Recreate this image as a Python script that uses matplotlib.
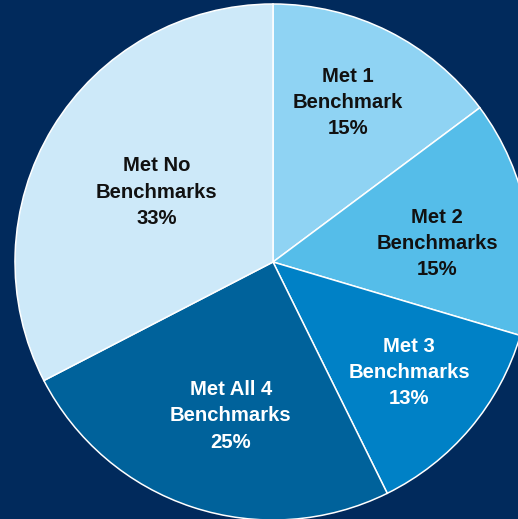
import matplotlib
matplotlib.use("Agg")
import matplotlib.pyplot as plt
import numpy as np

categories = ["Met 1\nBenchmark", "Met 2\nBenchmarks", "Met 3\nBenchmarks",
              "Met All 4\nBenchmarks", "Met No\nBenchmarks"]
values = [14.8, 14.8, 13.1, 24.7, 32.6]
pct_labels = ["15%", "15%", "13%", "25%", "33%"]
colors = ["#8fd3f3", "#55bde9", "#0081c6", "#00629b", "#cde9f9"]
text_colors = ["#111111", "#111111", "white", "white", "#111111"]
label_radius = [0.69, 0.641, 0.675, 0.611, 0.53]
label_angle = [65.0, 7.3, -38.5, -105.5, 148.2]

bg = "#012a5c"
W, H, DPI = 518, 519, 100
fig = plt.figure(figsize=(W / DPI, H / DPI), dpi=DPI, facecolor=bg)
ax = fig.add_axes([0, 0, 1, 1])
ax.set_facecolor(bg)

wedges, _ = ax.pie(values, colors=colors, startangle=90, counterclock=False,
                   radius=1.0, center=(0, 0),
                   wedgeprops=dict(edgecolor="white", linewidth=1.1))

for cat, pct, tc, r, a in zip(categories, pct_labels, text_colors, label_radius, label_angle):
    t = np.deg2rad(a)
    x, y = r * np.cos(t), r * np.sin(t) - 0.008
    ax.text(x, y, cat + "\n" + pct, ha="center", va="center", color=tc,
            fontsize=14.6, fontweight="bold", family="Liberation Sans",
            linespacing=1.47)

R = 258.0
cx, cy = 273.0, 262.0
ax.set_xlim(-cx / R, (W - cx) / R)
ax.set_ylim(-(H - cy) / R, cy / R)
ax.set_aspect("auto")
ax.axis("off")

fig.savefig("out.png", dpi=DPI, facecolor=bg)
